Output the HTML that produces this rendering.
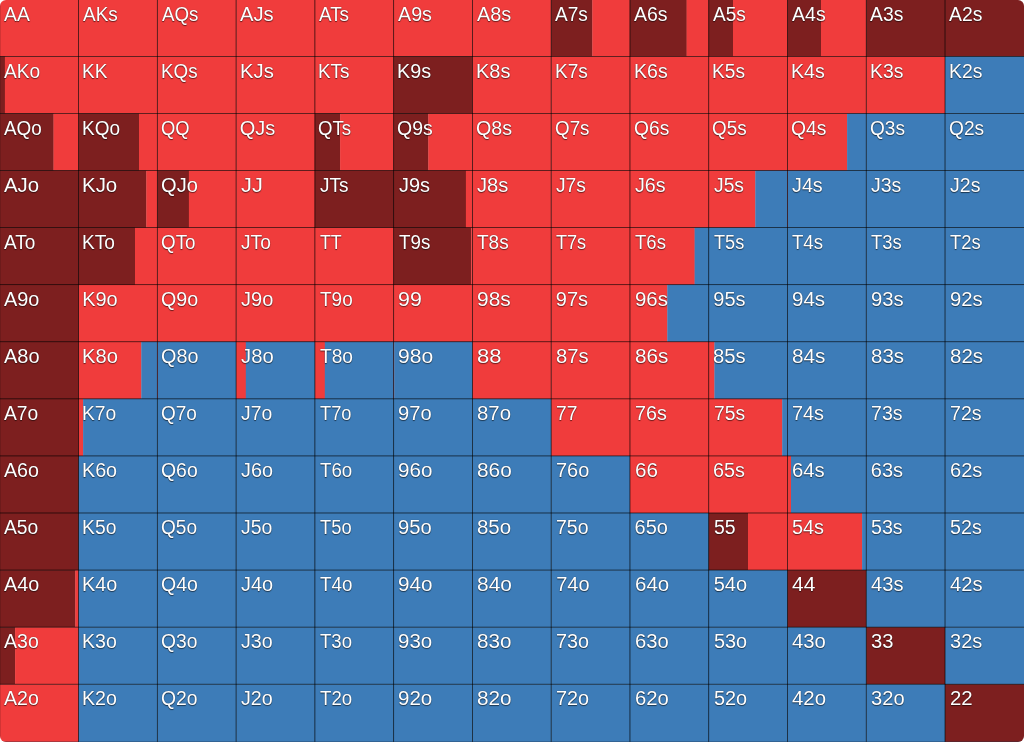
<!DOCTYPE html>
<html><head><meta charset="utf-8"><title>Range</title>
<style>
html,body{margin:0;padding:0;background:#fff;}
body{width:1024px;height:742px;overflow:hidden;position:relative;font-family:"Liberation Sans",sans-serif;}
#g{position:absolute;left:0;top:0;width:1024px;height:742px;border-radius:6px;overflow:hidden;}
#g svg{position:absolute;left:0;top:0;display:block}
.l{position:absolute;transform-origin:4px 0;color:#fff;font-size:20px;line-height:20px;padding:3.25px 0 0 4px;white-space:nowrap;text-shadow:0 1px 1px rgba(0,0,0,.55),0 0 1px rgba(0,0,0,.5);}
</style></head><body>
<div id="g">
<svg width="1024" height="742" viewBox="0 0 1024 742">
<g>
<rect x="0.00" y="0.00" width="78.87" height="56.68" fill="#f03c3c"/>
<rect x="78.57" y="0.00" width="79.07" height="56.68" fill="#f03c3c"/>
<rect x="157.34" y="0.00" width="79.07" height="56.68" fill="#f03c3c"/>
<rect x="236.11" y="0.00" width="79.07" height="56.68" fill="#f03c3c"/>
<rect x="314.88" y="0.00" width="79.07" height="56.68" fill="#f03c3c"/>
<rect x="393.65" y="0.00" width="79.07" height="56.68" fill="#f03c3c"/>
<rect x="472.42" y="0.00" width="79.07" height="56.68" fill="#f03c3c"/>
<rect x="551.18" y="0.00" width="41.42" height="56.68" fill="#7d1f1f"/>
<rect x="592.30" y="0.00" width="37.95" height="56.68" fill="#f03c3c"/>
<rect x="629.95" y="0.00" width="56.95" height="56.68" fill="#7d1f1f"/>
<rect x="686.60" y="0.00" width="22.42" height="56.68" fill="#f03c3c"/>
<rect x="708.72" y="0.00" width="24.58" height="56.68" fill="#7d1f1f"/>
<rect x="733.00" y="0.00" width="54.79" height="56.68" fill="#f03c3c"/>
<rect x="787.49" y="0.00" width="33.81" height="56.68" fill="#7d1f1f"/>
<rect x="821.00" y="0.00" width="45.56" height="56.68" fill="#f03c3c"/>
<rect x="866.26" y="0.00" width="79.07" height="56.68" fill="#7d1f1f"/>
<rect x="945.03" y="0.00" width="79.27" height="56.68" fill="#7d1f1f"/>
<rect x="0.00" y="56.38" width="5.20" height="57.38" fill="#7d1f1f"/>
<rect x="4.90" y="56.38" width="73.97" height="57.38" fill="#f03c3c"/>
<rect x="78.57" y="56.38" width="79.07" height="57.38" fill="#f03c3c"/>
<rect x="157.34" y="56.38" width="79.07" height="57.38" fill="#f03c3c"/>
<rect x="236.11" y="56.38" width="79.07" height="57.38" fill="#f03c3c"/>
<rect x="314.88" y="56.38" width="79.07" height="57.38" fill="#f03c3c"/>
<rect x="393.65" y="56.38" width="79.07" height="57.38" fill="#7d1f1f"/>
<rect x="472.42" y="56.38" width="79.07" height="57.38" fill="#f03c3c"/>
<rect x="551.18" y="56.38" width="79.07" height="57.38" fill="#f03c3c"/>
<rect x="629.95" y="56.38" width="79.07" height="57.38" fill="#f03c3c"/>
<rect x="708.72" y="56.38" width="79.07" height="57.38" fill="#f03c3c"/>
<rect x="787.49" y="56.38" width="79.07" height="57.38" fill="#f03c3c"/>
<rect x="866.26" y="56.38" width="79.07" height="57.38" fill="#f03c3c"/>
<rect x="945.03" y="56.38" width="79.27" height="57.38" fill="#3d7cb8"/>
<rect x="0.00" y="113.45" width="53.80" height="57.38" fill="#7d1f1f"/>
<rect x="53.50" y="113.45" width="25.37" height="57.38" fill="#f03c3c"/>
<rect x="78.57" y="113.45" width="60.73" height="57.38" fill="#7d1f1f"/>
<rect x="139.00" y="113.45" width="18.64" height="57.38" fill="#f03c3c"/>
<rect x="157.34" y="113.45" width="79.07" height="57.38" fill="#f03c3c"/>
<rect x="236.11" y="113.45" width="79.07" height="57.38" fill="#f03c3c"/>
<rect x="314.88" y="113.45" width="25.52" height="57.38" fill="#7d1f1f"/>
<rect x="340.10" y="113.45" width="53.85" height="57.38" fill="#f03c3c"/>
<rect x="393.65" y="113.45" width="34.95" height="57.38" fill="#7d1f1f"/>
<rect x="428.30" y="113.45" width="44.42" height="57.38" fill="#f03c3c"/>
<rect x="472.42" y="113.45" width="79.07" height="57.38" fill="#f03c3c"/>
<rect x="551.18" y="113.45" width="79.07" height="57.38" fill="#f03c3c"/>
<rect x="629.95" y="113.45" width="79.07" height="57.38" fill="#f03c3c"/>
<rect x="708.72" y="113.45" width="79.07" height="57.38" fill="#f03c3c"/>
<rect x="787.49" y="113.45" width="59.91" height="57.38" fill="#f03c3c"/>
<rect x="847.10" y="113.45" width="19.46" height="57.38" fill="#3d7cb8"/>
<rect x="866.26" y="113.45" width="79.07" height="57.38" fill="#3d7cb8"/>
<rect x="945.03" y="113.45" width="79.27" height="57.38" fill="#3d7cb8"/>
<rect x="0.00" y="170.53" width="78.87" height="57.38" fill="#7d1f1f"/>
<rect x="78.57" y="170.53" width="68.03" height="57.38" fill="#7d1f1f"/>
<rect x="146.30" y="170.53" width="11.34" height="57.38" fill="#f03c3c"/>
<rect x="157.34" y="170.53" width="31.86" height="57.38" fill="#7d1f1f"/>
<rect x="188.90" y="170.53" width="47.51" height="57.38" fill="#f03c3c"/>
<rect x="236.11" y="170.53" width="79.07" height="57.38" fill="#f03c3c"/>
<rect x="314.88" y="170.53" width="79.07" height="57.38" fill="#7d1f1f"/>
<rect x="393.65" y="170.53" width="72.55" height="57.38" fill="#7d1f1f"/>
<rect x="465.90" y="170.53" width="6.82" height="57.38" fill="#f03c3c"/>
<rect x="472.42" y="170.53" width="79.07" height="57.38" fill="#f03c3c"/>
<rect x="551.18" y="170.53" width="79.07" height="57.38" fill="#f03c3c"/>
<rect x="629.95" y="170.53" width="79.07" height="57.38" fill="#f03c3c"/>
<rect x="708.72" y="170.53" width="46.88" height="57.38" fill="#f03c3c"/>
<rect x="755.30" y="170.53" width="32.49" height="57.38" fill="#3d7cb8"/>
<rect x="787.49" y="170.53" width="0.80" height="57.38" fill="#f03c3c"/>
<rect x="787.99" y="170.53" width="78.57" height="57.38" fill="#3d7cb8"/>
<rect x="866.26" y="170.53" width="79.07" height="57.38" fill="#3d7cb8"/>
<rect x="945.03" y="170.53" width="79.27" height="57.38" fill="#3d7cb8"/>
<rect x="0.00" y="227.61" width="78.87" height="57.38" fill="#7d1f1f"/>
<rect x="78.57" y="227.61" width="56.73" height="57.38" fill="#7d1f1f"/>
<rect x="135.00" y="227.61" width="22.64" height="57.38" fill="#f03c3c"/>
<rect x="157.34" y="227.61" width="79.07" height="57.38" fill="#f03c3c"/>
<rect x="236.11" y="227.61" width="79.07" height="57.38" fill="#f03c3c"/>
<rect x="314.88" y="227.61" width="79.07" height="57.38" fill="#f03c3c"/>
<rect x="393.65" y="227.61" width="77.85" height="57.38" fill="#7d1f1f"/>
<rect x="471.20" y="227.61" width="1.52" height="57.38" fill="#f03c3c"/>
<rect x="472.42" y="227.61" width="79.07" height="57.38" fill="#f03c3c"/>
<rect x="551.18" y="227.61" width="79.07" height="57.38" fill="#f03c3c"/>
<rect x="629.95" y="227.61" width="64.95" height="57.38" fill="#f03c3c"/>
<rect x="694.60" y="227.61" width="14.42" height="57.38" fill="#3d7cb8"/>
<rect x="708.72" y="227.61" width="79.07" height="57.38" fill="#3d7cb8"/>
<rect x="787.49" y="227.61" width="79.07" height="57.38" fill="#3d7cb8"/>
<rect x="866.26" y="227.61" width="79.07" height="57.38" fill="#3d7cb8"/>
<rect x="945.03" y="227.61" width="79.27" height="57.38" fill="#3d7cb8"/>
<rect x="0.00" y="284.68" width="78.87" height="57.38" fill="#7d1f1f"/>
<rect x="78.57" y="284.68" width="79.07" height="57.38" fill="#f03c3c"/>
<rect x="157.34" y="284.68" width="79.07" height="57.38" fill="#f03c3c"/>
<rect x="236.11" y="284.68" width="79.07" height="57.38" fill="#f03c3c"/>
<rect x="314.88" y="284.68" width="79.07" height="57.38" fill="#f03c3c"/>
<rect x="393.65" y="284.68" width="79.07" height="57.38" fill="#f03c3c"/>
<rect x="472.42" y="284.68" width="79.07" height="57.38" fill="#f03c3c"/>
<rect x="551.18" y="284.68" width="79.07" height="57.38" fill="#f03c3c"/>
<rect x="629.95" y="284.68" width="37.65" height="57.38" fill="#f03c3c"/>
<rect x="667.30" y="284.68" width="41.72" height="57.38" fill="#3d7cb8"/>
<rect x="708.72" y="284.68" width="79.07" height="57.38" fill="#3d7cb8"/>
<rect x="787.49" y="284.68" width="79.07" height="57.38" fill="#3d7cb8"/>
<rect x="866.26" y="284.68" width="79.07" height="57.38" fill="#3d7cb8"/>
<rect x="945.03" y="284.68" width="79.27" height="57.38" fill="#3d7cb8"/>
<rect x="0.00" y="341.76" width="78.87" height="57.38" fill="#7d1f1f"/>
<rect x="78.57" y="341.76" width="63.03" height="57.38" fill="#f03c3c"/>
<rect x="141.30" y="341.76" width="16.34" height="57.38" fill="#3d7cb8"/>
<rect x="157.34" y="341.76" width="0.80" height="57.38" fill="#f03c3c"/>
<rect x="157.84" y="341.76" width="78.57" height="57.38" fill="#3d7cb8"/>
<rect x="236.11" y="341.76" width="9.99" height="57.38" fill="#f03c3c"/>
<rect x="245.80" y="341.76" width="69.38" height="57.38" fill="#3d7cb8"/>
<rect x="314.88" y="341.76" width="10.22" height="57.38" fill="#f03c3c"/>
<rect x="324.80" y="341.76" width="69.15" height="57.38" fill="#3d7cb8"/>
<rect x="393.65" y="341.76" width="0.80" height="57.38" fill="#f03c3c"/>
<rect x="394.15" y="341.76" width="78.57" height="57.38" fill="#3d7cb8"/>
<rect x="472.42" y="341.76" width="79.07" height="57.38" fill="#f03c3c"/>
<rect x="551.18" y="341.76" width="79.07" height="57.38" fill="#f03c3c"/>
<rect x="629.95" y="341.76" width="79.07" height="57.38" fill="#f03c3c"/>
<rect x="708.72" y="341.76" width="5.98" height="57.38" fill="#f03c3c"/>
<rect x="714.40" y="341.76" width="73.39" height="57.38" fill="#3d7cb8"/>
<rect x="787.49" y="341.76" width="79.07" height="57.38" fill="#3d7cb8"/>
<rect x="866.26" y="341.76" width="79.07" height="57.38" fill="#3d7cb8"/>
<rect x="945.03" y="341.76" width="79.27" height="57.38" fill="#3d7cb8"/>
<rect x="0.00" y="398.84" width="78.87" height="57.38" fill="#7d1f1f"/>
<rect x="78.57" y="398.84" width="4.83" height="57.38" fill="#f03c3c"/>
<rect x="83.10" y="398.84" width="74.54" height="57.38" fill="#3d7cb8"/>
<rect x="157.34" y="398.84" width="79.07" height="57.38" fill="#3d7cb8"/>
<rect x="236.11" y="398.84" width="79.07" height="57.38" fill="#3d7cb8"/>
<rect x="314.88" y="398.84" width="79.07" height="57.38" fill="#3d7cb8"/>
<rect x="393.65" y="398.84" width="79.07" height="57.38" fill="#3d7cb8"/>
<rect x="472.42" y="398.84" width="79.07" height="57.38" fill="#3d7cb8"/>
<rect x="551.18" y="398.84" width="79.07" height="57.38" fill="#f03c3c"/>
<rect x="629.95" y="398.84" width="79.07" height="57.38" fill="#f03c3c"/>
<rect x="708.72" y="398.84" width="73.78" height="57.38" fill="#f03c3c"/>
<rect x="782.20" y="398.84" width="5.59" height="57.38" fill="#3d7cb8"/>
<rect x="787.49" y="398.84" width="79.07" height="57.38" fill="#3d7cb8"/>
<rect x="866.26" y="398.84" width="79.07" height="57.38" fill="#3d7cb8"/>
<rect x="945.03" y="398.84" width="79.27" height="57.38" fill="#3d7cb8"/>
<rect x="0.00" y="455.92" width="78.87" height="57.38" fill="#7d1f1f"/>
<rect x="78.57" y="455.92" width="79.07" height="57.38" fill="#3d7cb8"/>
<rect x="157.34" y="455.92" width="79.07" height="57.38" fill="#3d7cb8"/>
<rect x="236.11" y="455.92" width="79.07" height="57.38" fill="#3d7cb8"/>
<rect x="314.88" y="455.92" width="79.07" height="57.38" fill="#3d7cb8"/>
<rect x="393.65" y="455.92" width="79.07" height="57.38" fill="#3d7cb8"/>
<rect x="472.42" y="455.92" width="79.07" height="57.38" fill="#3d7cb8"/>
<rect x="551.18" y="455.92" width="79.07" height="57.38" fill="#3d7cb8"/>
<rect x="629.95" y="455.92" width="79.07" height="57.38" fill="#f03c3c"/>
<rect x="708.72" y="455.92" width="79.07" height="57.38" fill="#f03c3c"/>
<rect x="787.49" y="455.92" width="3.81" height="57.38" fill="#f03c3c"/>
<rect x="791.00" y="455.92" width="75.56" height="57.38" fill="#3d7cb8"/>
<rect x="866.26" y="455.92" width="79.07" height="57.38" fill="#3d7cb8"/>
<rect x="945.03" y="455.92" width="79.27" height="57.38" fill="#3d7cb8"/>
<rect x="0.00" y="512.99" width="78.87" height="57.38" fill="#7d1f1f"/>
<rect x="78.57" y="512.99" width="79.07" height="57.38" fill="#3d7cb8"/>
<rect x="157.34" y="512.99" width="79.07" height="57.38" fill="#3d7cb8"/>
<rect x="236.11" y="512.99" width="79.07" height="57.38" fill="#3d7cb8"/>
<rect x="314.88" y="512.99" width="79.07" height="57.38" fill="#3d7cb8"/>
<rect x="393.65" y="512.99" width="79.07" height="57.38" fill="#3d7cb8"/>
<rect x="472.42" y="512.99" width="79.07" height="57.38" fill="#3d7cb8"/>
<rect x="551.18" y="512.99" width="79.07" height="57.38" fill="#3d7cb8"/>
<rect x="629.95" y="512.99" width="79.07" height="57.38" fill="#3d7cb8"/>
<rect x="708.72" y="512.99" width="39.58" height="57.38" fill="#7d1f1f"/>
<rect x="748.00" y="512.99" width="39.79" height="57.38" fill="#f03c3c"/>
<rect x="787.49" y="512.99" width="74.91" height="57.38" fill="#f03c3c"/>
<rect x="862.10" y="512.99" width="4.46" height="57.38" fill="#3d7cb8"/>
<rect x="866.26" y="512.99" width="79.07" height="57.38" fill="#3d7cb8"/>
<rect x="945.03" y="512.99" width="79.27" height="57.38" fill="#3d7cb8"/>
<rect x="0.00" y="570.07" width="75.60" height="57.38" fill="#7d1f1f"/>
<rect x="75.30" y="570.07" width="3.57" height="57.38" fill="#f03c3c"/>
<rect x="78.57" y="570.07" width="79.07" height="57.38" fill="#3d7cb8"/>
<rect x="157.34" y="570.07" width="79.07" height="57.38" fill="#3d7cb8"/>
<rect x="236.11" y="570.07" width="79.07" height="57.38" fill="#3d7cb8"/>
<rect x="314.88" y="570.07" width="79.07" height="57.38" fill="#3d7cb8"/>
<rect x="393.65" y="570.07" width="79.07" height="57.38" fill="#3d7cb8"/>
<rect x="472.42" y="570.07" width="79.07" height="57.38" fill="#3d7cb8"/>
<rect x="551.18" y="570.07" width="79.07" height="57.38" fill="#3d7cb8"/>
<rect x="629.95" y="570.07" width="79.07" height="57.38" fill="#3d7cb8"/>
<rect x="708.72" y="570.07" width="79.07" height="57.38" fill="#3d7cb8"/>
<rect x="787.49" y="570.07" width="79.07" height="57.38" fill="#7d1f1f"/>
<rect x="866.26" y="570.07" width="79.07" height="57.38" fill="#3d7cb8"/>
<rect x="945.03" y="570.07" width="79.27" height="57.38" fill="#3d7cb8"/>
<rect x="0.00" y="627.15" width="15.40" height="57.38" fill="#7d1f1f"/>
<rect x="15.10" y="627.15" width="63.77" height="57.38" fill="#f03c3c"/>
<rect x="78.57" y="627.15" width="79.07" height="57.38" fill="#3d7cb8"/>
<rect x="157.34" y="627.15" width="79.07" height="57.38" fill="#3d7cb8"/>
<rect x="236.11" y="627.15" width="79.07" height="57.38" fill="#3d7cb8"/>
<rect x="314.88" y="627.15" width="79.07" height="57.38" fill="#3d7cb8"/>
<rect x="393.65" y="627.15" width="79.07" height="57.38" fill="#3d7cb8"/>
<rect x="472.42" y="627.15" width="79.07" height="57.38" fill="#3d7cb8"/>
<rect x="551.18" y="627.15" width="79.07" height="57.38" fill="#3d7cb8"/>
<rect x="629.95" y="627.15" width="79.07" height="57.38" fill="#3d7cb8"/>
<rect x="708.72" y="627.15" width="79.07" height="57.38" fill="#3d7cb8"/>
<rect x="787.49" y="627.15" width="79.07" height="57.38" fill="#3d7cb8"/>
<rect x="866.26" y="627.15" width="79.07" height="57.38" fill="#7d1f1f"/>
<rect x="945.03" y="627.15" width="79.27" height="57.38" fill="#3d7cb8"/>
<rect x="0.00" y="684.22" width="78.87" height="58.08" fill="#f03c3c"/>
<rect x="78.57" y="684.22" width="79.07" height="58.08" fill="#3d7cb8"/>
<rect x="157.34" y="684.22" width="79.07" height="58.08" fill="#3d7cb8"/>
<rect x="236.11" y="684.22" width="79.07" height="58.08" fill="#3d7cb8"/>
<rect x="314.88" y="684.22" width="79.07" height="58.08" fill="#3d7cb8"/>
<rect x="393.65" y="684.22" width="79.07" height="58.08" fill="#3d7cb8"/>
<rect x="472.42" y="684.22" width="79.07" height="58.08" fill="#3d7cb8"/>
<rect x="551.18" y="684.22" width="79.07" height="58.08" fill="#3d7cb8"/>
<rect x="629.95" y="684.22" width="79.07" height="58.08" fill="#3d7cb8"/>
<rect x="708.72" y="684.22" width="79.07" height="58.08" fill="#3d7cb8"/>
<rect x="787.49" y="684.22" width="79.07" height="58.08" fill="#3d7cb8"/>
<rect x="866.26" y="684.22" width="79.07" height="58.08" fill="#3d7cb8"/>
<rect x="945.03" y="684.22" width="79.27" height="58.08" fill="#7d1f1f"/>
</g>
<g fill="#000" fill-opacity="0.8">
<rect x="78.17" y="0" width="0.8" height="742"/>
<rect x="0" y="56.00" width="1024" height="0.76"/>
<rect x="156.94" y="0" width="0.8" height="742"/>
<rect x="0" y="113.07" width="1024" height="0.76"/>
<rect x="235.71" y="0" width="0.8" height="742"/>
<rect x="0" y="170.15" width="1024" height="0.76"/>
<rect x="314.48" y="0" width="0.8" height="742"/>
<rect x="0" y="227.23" width="1024" height="0.76"/>
<rect x="393.25" y="0" width="0.8" height="742"/>
<rect x="0" y="284.30" width="1024" height="0.76"/>
<rect x="472.02" y="0" width="0.8" height="742"/>
<rect x="0" y="341.38" width="1024" height="0.76"/>
<rect x="550.78" y="0" width="0.8" height="742"/>
<rect x="0" y="398.46" width="1024" height="0.76"/>
<rect x="629.55" y="0" width="0.8" height="742"/>
<rect x="0" y="455.54" width="1024" height="0.76"/>
<rect x="708.32" y="0" width="0.8" height="742"/>
<rect x="0" y="512.61" width="1024" height="0.76"/>
<rect x="787.09" y="0" width="0.8" height="742"/>
<rect x="0" y="569.69" width="1024" height="0.76"/>
<rect x="865.86" y="0" width="0.8" height="742"/>
<rect x="0" y="626.77" width="1024" height="0.76"/>
<rect x="944.63" y="0" width="0.8" height="742"/>
<rect x="0" y="683.84" width="1024" height="0.76"/>
</g>
<rect x="0" y="741" width="1024" height="1" fill="#1e3246" fill-opacity="0.32"/>
<rect x="0" y="0" width="1" height="742" fill="#000" fill-opacity="0.12"/>
</svg>
<div class="l" style="left:0.00px;top:0.35px;transform:scaleX(0.967)">AA</div>
<div class="l" style="left:78.77px;top:0.35px;transform:scaleX(0.949)">AKs</div>
<div class="l" style="left:157.54px;top:0.35px;transform:scaleX(0.936)">AQs</div>
<div class="l" style="left:236.31px;top:0.35px;transform:scaleX(1.011)">AJs</div>
<div class="l" style="left:315.08px;top:0.35px;transform:scaleX(0.942)">ATs</div>
<div class="l" style="left:393.85px;top:0.35px;transform:scaleX(0.985)">A9s</div>
<div class="l" style="left:472.62px;top:0.35px;transform:scaleX(0.996)">A8s</div>
<div class="l" style="left:551.38px;top:0.35px;transform:scaleX(0.952)">A7s</div>
<div class="l" style="left:630.15px;top:0.35px;transform:scaleX(0.974)">A6s</div>
<div class="l" style="left:708.92px;top:0.35px;transform:scaleX(0.955)">A5s</div>
<div class="l" style="left:787.69px;top:0.35px;transform:scaleX(0.978)">A4s</div>
<div class="l" style="left:866.46px;top:0.35px;transform:scaleX(0.967)">A3s</div>
<div class="l" style="left:945.23px;top:0.35px;transform:scaleX(0.969)">A2s</div>
<div class="l" style="left:0.00px;top:57.39px;transform:scaleX(0.958)">AKo</div>
<div class="l" style="left:78.17px;top:57.39px;transform:scaleX(0.951)">KK</div>
<div class="l" style="left:156.94px;top:57.39px;transform:scaleX(0.939)">KQs</div>
<div class="l" style="left:235.71px;top:57.39px;transform:scaleX(1.014)">KJs</div>
<div class="l" style="left:314.48px;top:57.39px;transform:scaleX(0.945)">KTs</div>
<div class="l" style="left:393.25px;top:57.39px;transform:scaleX(0.988)">K9s</div>
<div class="l" style="left:472.02px;top:57.39px">K8s</div>
<div class="l" style="left:550.78px;top:57.39px;transform:scaleX(0.955)">K7s</div>
<div class="l" style="left:629.55px;top:57.39px;transform:scaleX(0.977)">K6s</div>
<div class="l" style="left:708.32px;top:57.39px;transform:scaleX(0.957)">K5s</div>
<div class="l" style="left:787.09px;top:57.39px;transform:scaleX(0.981)">K4s</div>
<div class="l" style="left:865.86px;top:57.39px;transform:scaleX(0.969)">K3s</div>
<div class="l" style="left:944.63px;top:57.39px;transform:scaleX(0.972)">K2s</div>
<div class="l" style="left:0.00px;top:114.43px;transform:scaleX(0.945)">AQo</div>
<div class="l" style="left:78.17px;top:114.43px;transform:scaleX(0.949)">KQo</div>
<div class="l" style="left:156.94px;top:114.43px;transform:scaleX(0.920)">QQ</div>
<div class="l" style="left:235.71px;top:114.43px">QJs</div>
<div class="l" style="left:314.48px;top:114.43px;transform:scaleX(0.933)">QTs</div>
<div class="l" style="left:393.25px;top:114.43px;transform:scaleX(0.973)">Q9s</div>
<div class="l" style="left:472.02px;top:114.43px;transform:scaleX(0.983)">Q8s</div>
<div class="l" style="left:550.78px;top:114.43px;transform:scaleX(0.941)">Q7s</div>
<div class="l" style="left:629.55px;top:114.43px;transform:scaleX(0.962)">Q6s</div>
<div class="l" style="left:708.32px;top:114.43px;transform:scaleX(0.944)">Q5s</div>
<div class="l" style="left:787.09px;top:114.43px;transform:scaleX(0.966)">Q4s</div>
<div class="l" style="left:865.86px;top:114.43px;transform:scaleX(0.955)">Q3s</div>
<div class="l" style="left:944.63px;top:114.43px;transform:scaleX(0.958)">Q2s</div>
<div class="l" style="left:0.00px;top:171.48px;transform:scaleX(1.019)">AJo</div>
<div class="l" style="left:78.17px;top:171.48px;transform:scaleX(1.022)">KJo</div>
<div class="l" style="left:156.94px;top:171.48px;transform:scaleX(1.005)">QJo</div>
<div class="l" style="left:237.06px;top:171.48px;transform:scaleX(1.089)">JJ</div>
<div class="l" style="left:315.83px;top:171.48px;transform:scaleX(0.949)">JTs</div>
<div class="l" style="left:394.60px;top:171.48px;transform:scaleX(0.996)">J9s</div>
<div class="l" style="left:473.37px;top:171.48px;transform:scaleX(1.007)">J8s</div>
<div class="l" style="left:552.13px;top:171.48px;transform:scaleX(0.961)">J7s</div>
<div class="l" style="left:630.90px;top:171.48px;transform:scaleX(0.984)">J6s</div>
<div class="l" style="left:709.67px;top:171.48px;transform:scaleX(0.964)">J5s</div>
<div class="l" style="left:788.44px;top:171.48px;transform:scaleX(0.988)">J4s</div>
<div class="l" style="left:867.21px;top:171.48px;transform:scaleX(0.976)">J3s</div>
<div class="l" style="left:945.98px;top:171.48px;transform:scaleX(0.979)">J2s</div>
<div class="l" style="left:0.00px;top:228.52px;transform:scaleX(0.952)">ATo</div>
<div class="l" style="left:78.17px;top:228.52px;transform:scaleX(0.955)">KTo</div>
<div class="l" style="left:156.94px;top:228.52px;transform:scaleX(0.942)">QTo</div>
<div class="l" style="left:237.06px;top:228.52px;transform:scaleX(0.957)">JTo</div>
<div class="l" style="left:315.78px;top:228.52px;transform:scaleX(0.890)">TT</div>
<div class="l" style="left:394.55px;top:228.52px;transform:scaleX(0.939)">T9s</div>
<div class="l" style="left:473.32px;top:228.52px;transform:scaleX(0.949)">T8s</div>
<div class="l" style="left:552.08px;top:228.52px;transform:scaleX(0.905)">T7s</div>
<div class="l" style="left:630.85px;top:228.52px;transform:scaleX(0.927)">T6s</div>
<div class="l" style="left:709.62px;top:228.52px;transform:scaleX(0.908)">T5s</div>
<div class="l" style="left:788.39px;top:228.52px;transform:scaleX(0.931)">T4s</div>
<div class="l" style="left:867.16px;top:228.52px;transform:scaleX(0.920)">T3s</div>
<div class="l" style="left:945.93px;top:228.52px;transform:scaleX(0.923)">T2s</div>
<div class="l" style="left:0.00px;top:285.56px;transform:scaleX(0.994)">A9o</div>
<div class="l" style="left:78.17px;top:285.56px">K9o</div>
<div class="l" style="left:156.94px;top:285.56px;transform:scaleX(0.982)">Q9o</div>
<div class="l" style="left:237.06px;top:285.56px">J9o</div>
<div class="l" style="left:315.78px;top:285.56px;transform:scaleX(0.948)">T9o</div>
<div class="l" style="left:394.25px;top:285.56px;transform:scaleX(1.069)">99</div>
<div class="l" style="left:473.02px;top:285.56px;transform:scaleX(1.046)">98s</div>
<div class="l" style="left:551.78px;top:285.56px">97s</div>
<div class="l" style="left:630.55px;top:285.56px;transform:scaleX(1.022)">96s</div>
<div class="l" style="left:709.32px;top:285.56px">95s</div>
<div class="l" style="left:788.09px;top:285.56px;transform:scaleX(1.027)">94s</div>
<div class="l" style="left:866.86px;top:285.56px;transform:scaleX(1.014)">93s</div>
<div class="l" style="left:945.63px;top:285.56px;transform:scaleX(1.017)">92s</div>
<div class="l" style="left:0.00px;top:342.60px">A8o</div>
<div class="l" style="left:78.17px;top:342.60px;transform:scaleX(1.007)">K8o</div>
<div class="l" style="left:156.94px;top:342.60px;transform:scaleX(0.991)">Q8o</div>
<div class="l" style="left:237.06px;top:342.60px;transform:scaleX(1.013)">J8o</div>
<div class="l" style="left:315.78px;top:342.60px;transform:scaleX(0.958)">T8o</div>
<div class="l" style="left:394.25px;top:342.60px;transform:scaleX(1.054)">98o</div>
<div class="l" style="left:473.02px;top:342.60px;transform:scaleX(1.101)">88</div>
<div class="l" style="left:551.78px;top:342.60px;transform:scaleX(1.010)">87s</div>
<div class="l" style="left:630.55px;top:342.60px;transform:scaleX(1.033)">86s</div>
<div class="l" style="left:709.32px;top:342.60px;transform:scaleX(1.013)">85s</div>
<div class="l" style="left:788.09px;top:342.60px;transform:scaleX(1.038)">84s</div>
<div class="l" style="left:866.86px;top:342.60px;transform:scaleX(1.025)">83s</div>
<div class="l" style="left:945.63px;top:342.60px;transform:scaleX(1.028)">82s</div>
<div class="l" style="left:0.00px;top:399.64px;transform:scaleX(0.962)">A7o</div>
<div class="l" style="left:78.17px;top:399.64px;transform:scaleX(0.965)">K7o</div>
<div class="l" style="left:156.94px;top:399.64px;transform:scaleX(0.951)">Q7o</div>
<div class="l" style="left:237.06px;top:399.64px;transform:scaleX(0.969)">J7o</div>
<div class="l" style="left:315.78px;top:399.64px;transform:scaleX(0.915)">T7o</div>
<div class="l" style="left:394.25px;top:399.64px;transform:scaleX(1.008)">97o</div>
<div class="l" style="left:473.02px;top:399.64px;transform:scaleX(1.019)">87o</div>
<div class="l" style="left:552.18px;top:399.64px;transform:scaleX(0.963)">77</div>
<div class="l" style="left:630.95px;top:399.64px;transform:scaleX(0.986)">76s</div>
<div class="l" style="left:709.72px;top:399.64px;transform:scaleX(0.965)">75s</div>
<div class="l" style="left:788.49px;top:399.64px;transform:scaleX(0.991)">74s</div>
<div class="l" style="left:867.26px;top:399.64px;transform:scaleX(0.978)">73s</div>
<div class="l" style="left:946.03px;top:399.64px;transform:scaleX(0.981)">72s</div>
<div class="l" style="left:0.00px;top:456.69px;transform:scaleX(0.983)">A6o</div>
<div class="l" style="left:78.17px;top:456.69px;transform:scaleX(0.986)">K6o</div>
<div class="l" style="left:156.94px;top:456.69px;transform:scaleX(0.971)">Q6o</div>
<div class="l" style="left:237.06px;top:456.69px;transform:scaleX(0.991)">J6o</div>
<div class="l" style="left:315.78px;top:456.69px;transform:scaleX(0.936)">T6o</div>
<div class="l" style="left:394.25px;top:456.69px;transform:scaleX(1.031)">96o</div>
<div class="l" style="left:473.02px;top:456.69px;transform:scaleX(1.041)">86o</div>
<div class="l" style="left:552.18px;top:456.69px;transform:scaleX(0.996)">76o</div>
<div class="l" style="left:630.55px;top:456.69px;transform:scaleX(1.032)">66</div>
<div class="l" style="left:709.32px;top:456.69px;transform:scaleX(0.989)">65s</div>
<div class="l" style="left:788.09px;top:456.69px;transform:scaleX(1.014)">64s</div>
<div class="l" style="left:866.86px;top:456.69px">63s</div>
<div class="l" style="left:945.63px;top:456.69px;transform:scaleX(1.005)">62s</div>
<div class="l" style="left:0.00px;top:513.73px;transform:scaleX(0.964)">A5o</div>
<div class="l" style="left:78.17px;top:513.73px;transform:scaleX(0.967)">K5o</div>
<div class="l" style="left:156.94px;top:513.73px;transform:scaleX(0.954)">Q5o</div>
<div class="l" style="left:237.06px;top:513.73px;transform:scaleX(0.972)">J5o</div>
<div class="l" style="left:315.78px;top:513.73px;transform:scaleX(0.918)">T5o</div>
<div class="l" style="left:394.25px;top:513.73px;transform:scaleX(1.011)">95o</div>
<div class="l" style="left:473.02px;top:513.73px;transform:scaleX(1.022)">85o</div>
<div class="l" style="left:552.18px;top:513.73px;transform:scaleX(0.976)">75o</div>
<div class="l" style="left:630.55px;top:513.73px">65o</div>
<div class="l" style="left:709.72px;top:513.73px;transform:scaleX(0.973)">55</div>
<div class="l" style="left:788.49px;top:513.73px;transform:scaleX(0.994)">54s</div>
<div class="l" style="left:867.26px;top:513.73px;transform:scaleX(0.981)">53s</div>
<div class="l" style="left:946.03px;top:513.73px;transform:scaleX(0.984)">52s</div>
<div class="l" style="left:0.00px;top:570.77px;transform:scaleX(0.987)">A4o</div>
<div class="l" style="left:78.17px;top:570.77px;transform:scaleX(0.990)">K4o</div>
<div class="l" style="left:156.94px;top:570.77px;transform:scaleX(0.975)">Q4o</div>
<div class="l" style="left:237.06px;top:570.77px;transform:scaleX(0.996)">J4o</div>
<div class="l" style="left:315.78px;top:570.77px;transform:scaleX(0.941)">T4o</div>
<div class="l" style="left:394.25px;top:570.77px;transform:scaleX(1.035)">94o</div>
<div class="l" style="left:473.02px;top:570.77px;transform:scaleX(1.046)">84o</div>
<div class="l" style="left:552.18px;top:570.77px">74o</div>
<div class="l" style="left:630.55px;top:570.77px;transform:scaleX(1.023)">64o</div>
<div class="l" style="left:709.72px;top:570.77px">54o</div>
<div class="l" style="left:788.49px;top:570.77px;transform:scaleX(1.046)">44</div>
<div class="l" style="left:867.26px;top:570.77px;transform:scaleX(1.006)">43s</div>
<div class="l" style="left:946.03px;top:570.77px;transform:scaleX(1.010)">42s</div>
<div class="l" style="left:0.00px;top:627.81px;transform:scaleX(0.976)">A3o</div>
<div class="l" style="left:78.17px;top:627.81px;transform:scaleX(0.979)">K3o</div>
<div class="l" style="left:156.94px;top:627.81px;transform:scaleX(0.964)">Q3o</div>
<div class="l" style="left:237.06px;top:627.81px;transform:scaleX(0.984)">J3o</div>
<div class="l" style="left:315.78px;top:627.81px;transform:scaleX(0.929)">T3o</div>
<div class="l" style="left:394.25px;top:627.81px;transform:scaleX(1.023)">93o</div>
<div class="l" style="left:473.02px;top:627.81px;transform:scaleX(1.034)">83o</div>
<div class="l" style="left:552.18px;top:627.81px;transform:scaleX(0.988)">73o</div>
<div class="l" style="left:630.55px;top:627.81px;transform:scaleX(1.011)">63o</div>
<div class="l" style="left:709.72px;top:627.81px;transform:scaleX(0.991)">53o</div>
<div class="l" style="left:788.49px;top:627.81px;transform:scaleX(1.015)">43o</div>
<div class="l" style="left:867.26px;top:627.81px;transform:scaleX(1.009)">33</div>
<div class="l" style="left:946.03px;top:627.81px">32s</div>
<div class="l" style="left:0.00px;top:684.85px;transform:scaleX(0.978)">A2o</div>
<div class="l" style="left:78.17px;top:684.85px;transform:scaleX(0.982)">K2o</div>
<div class="l" style="left:156.94px;top:684.85px;transform:scaleX(0.967)">Q2o</div>
<div class="l" style="left:237.06px;top:684.85px;transform:scaleX(0.987)">J2o</div>
<div class="l" style="left:315.78px;top:684.85px;transform:scaleX(0.932)">T2o</div>
<div class="l" style="left:394.25px;top:684.85px;transform:scaleX(1.026)">92o</div>
<div class="l" style="left:473.02px;top:684.85px;transform:scaleX(1.037)">82o</div>
<div class="l" style="left:552.18px;top:684.85px;transform:scaleX(0.991)">72o</div>
<div class="l" style="left:630.55px;top:684.85px;transform:scaleX(1.014)">62o</div>
<div class="l" style="left:709.72px;top:684.85px;transform:scaleX(0.994)">52o</div>
<div class="l" style="left:788.49px;top:684.85px;transform:scaleX(1.019)">42o</div>
<div class="l" style="left:867.26px;top:684.85px;transform:scaleX(1.006)">32o</div>
<div class="l" style="left:946.03px;top:684.85px;transform:scaleX(1.019)">22</div>
</div>
</body></html>
